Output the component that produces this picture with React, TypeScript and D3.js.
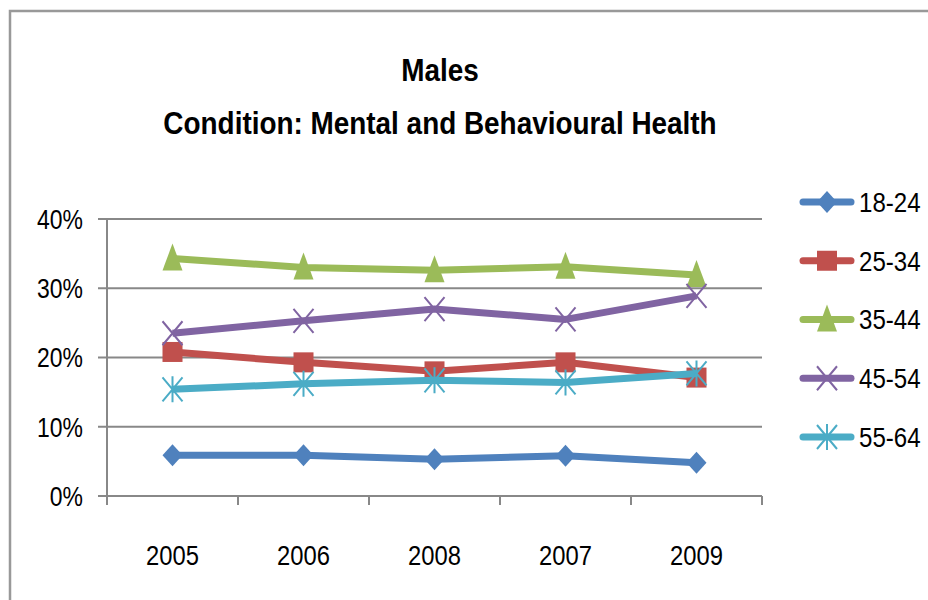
import React from 'react';
import * as d3 from 'd3';

const years = ['2005', '2006', '2008', '2007', '2009'];
const groups = ['18-24', '25-34', '35-44', '45-54', '55-64'];
const colors = ['#4F81BD', '#C0504D', '#9BBB59', '#8064A2', '#4BACC6'];
const values18 = [5.9, 5.9, 5.3, 5.8, 4.8];
const values25 = [20.8, 19.3, 18.0, 19.3, 17.1];
const values35 = [34.3, 33.0, 32.6, 33.1, 31.9];
const values45 = [23.5, 25.3, 27.0, 25.5, 28.9];
const values55 = [15.4, 16.2, 16.7, 16.4, 17.7];
const yTicks = [0, 10, 20, 30, 40];

const seriesValues = [values18, values25, values35, values45, values55];
const markers = ['diamond', 'square', 'triangle', 'x', 'star'];

const font = "'Liberation Sans', Arial, sans-serif";

// narrow text: Calibri isn't available so squeeze Liberation Sans horizontally
const Label = ({ x, y, anchor = 'start', size = 28, bold = false, sx = 0.84, children }: any) => (
  <text transform={`translate(${x},${y}) scale(${sx},1)`} textAnchor={anchor} dy="0.35em"
    fontSize={size} fontWeight={bold ? 'bold' : 'normal'}>{children}</text>
);

const Marker = ({ kind, x, y, color }: { kind: string; x: number; y: number; color: string }) => {
  if (kind === 'diamond') {
    return <path d={`M${x},${y - 11}L${x + 10},${y}L${x},${y + 11}L${x - 10},${y}Z`} fill={color} />;
  }
  if (kind === 'square') {
    return <rect x={x - 10} y={y - 10} width={20} height={20} fill={color} />;
  }
  if (kind === 'triangle') {
    return <path d={`M${x},${y - 15}L${x + 10},${y + 12}L${x - 10},${y + 12}Z`} fill={color} />;
  }
  if (kind === 'x') {
    return (
      <path d={`M${x - 10},${y - 12}L${x + 10},${y + 12}M${x + 10},${y - 12}L${x - 10},${y + 12}`}
        stroke={color} strokeWidth={2} />
    );
  }
  return (
    <path d={`M${x - 10},${y - 12}L${x + 10},${y + 12}M${x + 10},${y - 12}L${x - 10},${y + 12}M${x},${y - 13}L${x},${y + 13}`}
      stroke={color} strokeWidth={2} />
  );
};

const App = () => {
  const x = d3.scaleBand().domain(years).range([107, 762]);
  const y = d3.scaleLinear().domain([0, 40]).range([496, 219]);
  const cx = (yr: string) => x(yr)! + x.bandwidth() / 2;
  const line = d3.line<number>()
    .x((_, i) => cx(years[i]))
    .y(d => y(d));
  const legendY = d3.scalePoint().domain(groups).range([202, 437]);
  const bounds = [...years.map(v => x(v)!), 762];

  return (
    <svg width={928} height={600} style={{ position: 'absolute', left: 0, top: 0 }} fontFamily={font}>
      <rect x={0} y={0} width={928} height={600} fill="#fff" />
      <rect x={10} y={11} width={940} height={620} fill="none" stroke="#999" strokeWidth={2.5} />

      <Label x={440} y={70} anchor="middle" size={31} bold sx={0.9}>Males</Label>
      <Label x={440} y={123} anchor="middle" size={31} bold sx={0.9}>
        Condition: Mental and Behavioural Health
      </Label>

      {yTicks.map(t => (
        <g key={t}>
          <line x1={98} x2={762} y1={y(t)} y2={y(t)} stroke="#888" strokeWidth={2} />
          <Label x={83} y={y(t)} anchor="end" sx={0.82}>{t}%</Label>
        </g>
      ))}
      <line x1={107} x2={107} y1={219} y2={505} stroke="#888" strokeWidth={2} />
      {bounds.map((b, i) => (
        <line key={i} x1={b} x2={b} y1={496} y2={505} stroke="#888" strokeWidth={2} />
      ))}
      {years.map(v => (
        <Label key={v} x={cx(v)} y={555} anchor="middle" sx={0.85}>{v}</Label>
      ))}

      {seriesValues.map((vals, si) => (
        <g key={groups[si]}>
          <path d={line(vals)!} fill="none" stroke={colors[si]} strokeWidth={7} strokeLinejoin="round" />
          {vals.map((v, i) => (
            <Marker key={i} kind={markers[si]} x={cx(years[i])} y={y(v)} color={colors[si]} />
          ))}
        </g>
      ))}

      {groups.map((g, i) => (
        <g key={g}>
          <line x1={803} x2={851} y1={legendY(g)} y2={legendY(g)} stroke={colors[i]} strokeWidth={7} strokeLinecap="round" />
          <Marker kind={markers[i]} x={827} y={legendY(g)!} color={colors[i]} />
          <Label x={859} y={legendY(g)} sx={0.86}>{g}</Label>
        </g>
      ))}
    </svg>
  );
};

export default App;
